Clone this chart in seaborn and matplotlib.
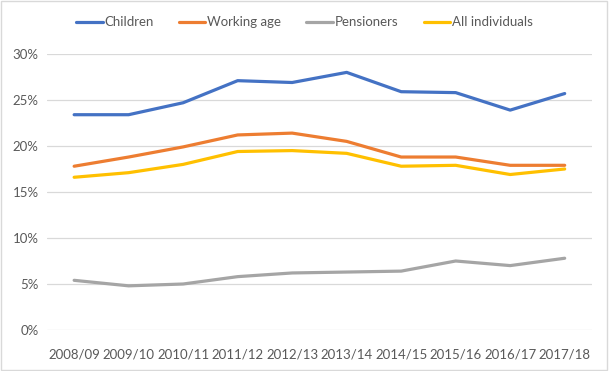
import matplotlib.pyplot as plt
import seaborn as sns
import pandas as pd
from matplotlib.ticker import PercentFormatter
from matplotlib.patches import Rectangle

years = ["2008/09", "2009/10", "2010/11", "2011/12", "2012/13",
         "2013/14", "2014/15", "2015/16", "2016/17", "2017/18"]
children = [23.4, 23.4, 24.7, 27.1, 26.9, 28.0, 25.9, 25.8, 23.9, 25.7]
working_age = [17.8, 18.8, 19.9, 21.2, 21.4, 20.5, 18.8, 18.8, 17.9, 17.9]
pensioners = [5.4, 4.8, 5.0, 5.8, 6.2, 6.3, 6.4, 7.5, 7.0, 7.8]
all_individuals = [16.6, 17.1, 18.0, 19.4, 19.5, 19.2, 17.8, 17.9, 16.9, 17.5]

series = {"Children": children, "Working age": working_age,
          "Pensioners": pensioners, "All individuals": all_individuals}
colours = {"Children": "#4472C4", "Working age": "#ED7D31",
           "Pensioners": "#A5A5A5", "All individuals": "#FFC000"}

rows = []
for name, vals in series.items():
    for i, v in enumerate(vals):
        rows.append({"idx": i, "value": v / 100, "group": name})
df = pd.DataFrame(rows)

sns.set_style("white")
plt.rcParams['font.family'] = ['Lato', 'DejaVu Sans']

fig = plt.figure(figsize=(6.09, 3.71), dpi=100)
ax = fig.add_axes([0.077, 0.1105, 0.895, 0.744])

sns.lineplot(data=df, x="idx", y="value", hue="group", palette=colours,
             linewidth=2.3, ax=ax, legend=False)

ax.set_xlim(-0.5, 9.5)
ax.set_ylim(0, 0.30)
ax.set_yticks([0, 0.05, 0.10, 0.15, 0.20, 0.25, 0.30])
ax.yaxis.set_major_formatter(PercentFormatter(1.0, decimals=0))
ax.set_xticks(range(len(years)))
ax.set_xticklabels(years)
ax.grid(axis="y", color="#D9D9D9", linewidth=0.9)
ax.set_axisbelow(True)
for s in ax.spines.values():
    s.set_visible(False)
ax.tick_params(axis="both", length=0, labelsize=9.5, colors="#595959")
ax.tick_params(axis="x", pad=13)
ax.tick_params(axis="y", pad=6)
ax.set_xlabel("")
ax.set_ylabel("")

handles = [plt.Line2D([], [], color=colours[n], linewidth=2.3) for n in series]
fig.legend(handles, list(series), loc="center", bbox_to_anchor=(0.5, 0.94),
           ncol=4, frameon=False, fontsize=9.5, labelcolor="#595959",
           handlelength=2.0, handletextpad=0.15, columnspacing=1.9)

fig.add_artist(Rectangle((0.002, 0.003), 0.995, 0.993, transform=fig.transFigure,
                         fill=False, edgecolor="#D9D9D9", linewidth=1))

fig.savefig("out.png", dpi=100)
